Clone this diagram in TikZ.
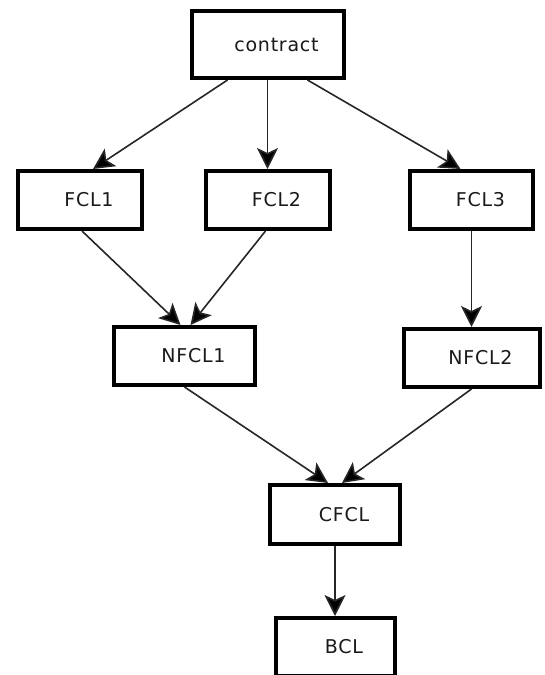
\documentclass[tikz,border=0pt]{standalone}
\usepackage{fontspec}
\newfontfamily\boxfont[LetterSpace=4]{DejaVu Sans}
\usetikzlibrary{arrows.meta}
\tikzset{
  box/.style={draw=black, line width=4pt, fill=white, minimum height=58pt,
    font=\boxfont\fontsize{19}{21}\selectfont, text=black!90,
    execute at begin node=\hspace*{18pt}},
  link/.style={draw=black!85, line width=1.6pt,
    -{Stealth[length=21pt,width=21pt,inset=5pt,fill=black]}}
}
\begin{document}
\begin{tikzpicture}[x=1pt,y=-1pt]
        \useasboundingbox (0,0) rectangle (544,675);
        \clip (0,0) rectangle (544,675);
        % boxes
        \node[box, minimum width=152pt, minimum height=67pt] (contract) at (267.5,44.5) {contract};
        \node[box, minimum width=124pt] (fcl1) at (80,200) {FCL1};
        \node[box, minimum width=124pt] (fcl2) at (267.5,200) {FCL2};
        \node[box, minimum width=123pt] (fcl3) at (471.5,200) {FCL3};
        \node[box, minimum width=141pt] (nfcl1) at (184.5,356) {NFCL1};
        \node[box, minimum width=136pt] (nfcl2) at (471.5,358) {NFCL2};
        \node[box, minimum width=130pt, minimum height=59pt] (cfcl) at (335,514.5) {CFCL};
        \node[box, minimum width=119pt] (bcl) at (335,647) {BCL};
        % arrows
        \draw[link] ([xshift=-40pt]contract.south) -- ([xshift=13pt]fcl1.north);
        \draw[link] (contract.south) -- (fcl2.north);
        \draw[link] ([xshift=40pt]contract.south) -- ([xshift=-11pt]fcl3.north);
        \draw[link] ([xshift=2pt]fcl1.south) -- ([xshift=-4pt]nfcl1.north);
        \draw[link] ([xshift=-2pt]fcl2.south) -- ([xshift=6pt]nfcl1.north);
        \draw[link] (fcl3.south) -- (nfcl2.north);
        \draw[link] (nfcl1.south) -- ([xshift=-7pt]cfcl.north);
        \draw[link] (nfcl2.south) -- ([xshift=7pt]cfcl.north);
        \draw[link] (cfcl.south) -- (bcl.north);
\end{tikzpicture}
\end{document}
